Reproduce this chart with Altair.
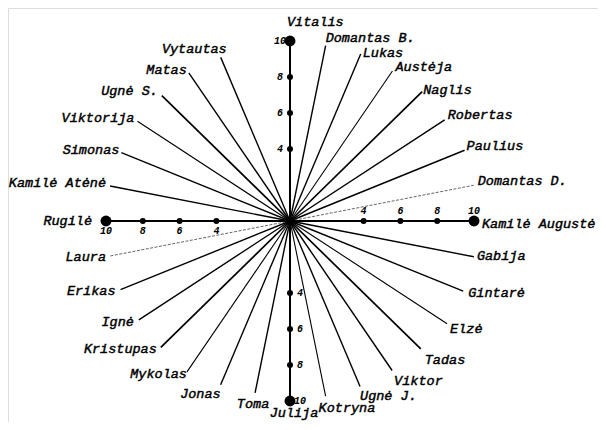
import math
import altair as alt
import pandas as pd

# ---- data -----------------------------------------------------------------
names = ["Vitalis", "Domantas B.", "Lukas", "Austėja", "Naglis", "Robertas", "Paulius",
         "Domantas D.", "Kamilė Augustė", "Gabija", "Gintarė", "Elzė", "Tadas", "Viktor",
         "Ugnė J.", "Kotryna", "Julija", "Toma", "Jonas", "Mykolas", "Kristupas", "Ignė",
         "Erikas", "Laura", "Rugilė", "Kamilė Atėnė", "Simonas", "Viktorija", "Ugnė S.",
         "Matas", "Vytautas"]
# slot around the circle (32 slots, clockwise from top; the last slot is empty)
slots = list(range(31))
# length of each spoke, in scale units (axis tick 10 = full axis)
lengths = [10, 9.93, 10.04, 10.02, 10.16, 10.11, 10.27, 10.18, 10, 10.19, 10.19, 10.27,
           10.05, 9.99, 9.95, 9.92, 10, 9.73, 9.85, 10.08, 9.93, 9.88, 9.97, 10.03, 10,
           9.97, 9.92, 9.97, 9.85, 9.9, 9.84]
# line weight: 0 = faint dashed, 1 = thin, 2 = medium, 3 = thick, 4 = scale axis
weights = [4, 2, 2, 1, 3, 2, 2, 0, 4, 2, 2, 1, 3, 2, 2, 1, 4, 2, 2, 1, 3, 2, 2, 0, 4,
           2, 2, 1, 3, 2, 2]
tick_values = [4, 6, 8, 10]
axis_names = ["Vitalis", "Kamilė Augustė", "Julija", "Rugilė"]

# ---- layout ----------------------------------------------------------------
PXX, PXY = 18.4, 18.0    # pixels per scale unit (x, y)
W, H = 590, 414
CX, CY = 282, 213        # centre inside the plot area
xdom = [-CX / PXX, (W - CX) / PXX]
ydom = [-(H - CY) / PXY, CY / PXY]

# label nudges relative to the end of each spoke: (align, dx px, dy px)
label_style = {
    "Vitalis": ("left", -3, -19), "Domantas B.": ("left", 0, -8), "Lukas": ("left", 2, -1),
    "Austėja": ("left", 3, -4), "Naglis": ("left", 1, -2), "Robertas": ("left", 3, -5),
    "Paulius": ("left", 2, -4), "Domantas D.": ("left", 4, -4),
    "Kamilė Augustė": ("left", 8, 3), "Gabija": ("left", 3, -1), "Gintarė": ("left", 5, 2),
    "Elzė": ("left", 3, 5), "Tadas": ("left", 4, 11), "Viktor": ("left", 2, 10),
    "Ugnė J.": ("left", 0, 10), "Kotryna": ("left", -7, 12), "Julija": ("center", 4, 12),
    "Toma": ("center", -2, 11), "Jonas": ("right", 0, 9), "Mykolas": ("right", 0, 2),
    "Kristupas": ("right", -4, 2), "Ignė": ("right", -5, 2), "Erikas": ("right", -5, 1),
    "Laura": ("right", -3, 1), "Rugilė": ("right", -14, 0), "Kamilė Atėnė": ("right", -4, -3),
    "Simonas": ("right", -2, -3), "Viktorija": ("right", -3, -3), "Ugnė S.": ("right", -4, -5),
    "Matas": ("right", -2, -3), "Vytautas": ("right", 6, -8),
}

rows = []
for n, sl, L, w in zip(names, slots, lengths, weights):
    th = math.radians(sl * 360 / 32)
    ex, ey = L * math.sin(th), L * math.cos(th)
    al, dx, dy = label_style[n]
    rows.append(dict(name=n, x0=0.0, y0=0.0, ex=ex, ey=ey, w=w, align=al,
                     lx=ex + dx / PXX, ly=ey - dy / PXY))
df = pd.DataFrame(rows)

tick_rows = []
for n in axis_names:
    th = math.radians(slots[names.index(n)] * 360 / 32)
    s, c = math.sin(th), math.cos(th)
    for v in tick_values:
        tx, ty = v * s, v * c
        ox, oy = -c * 10, -s * 10  # screen offset of the tick label (y down)
        tick_rows.append(dict(v=v, tx=tx, ty=ty, big=(v == max(tick_values)),
                              vx=tx + ox / PXX, vy=ty - oy / PXY, lab=str(v)))
ticks = pd.DataFrame(tick_rows)

X = lambda f: alt.X(f, type="quantitative", scale=alt.Scale(domain=xdom), axis=None)
Y = lambda f: alt.Y(f, type="quantitative", scale=alt.Scale(domain=ydom), axis=None)

base = alt.Chart(df)

dashed = base.transform_filter("datum.w == 0").mark_rule(
    color="#666666", strokeWidth=1, strokeDash=[3, 1.5]).encode(
    x=X("x0"), y=Y("y0"), x2="ex", y2="ey")

solid = base.transform_filter("datum.w > 0").mark_rule(color="black", strokeCap="butt").encode(
    x=X("x0"), y=Y("y0"), x2="ex", y2="ey",
    strokeWidth=alt.StrokeWidth("w:O", scale=alt.Scale(domain=[1, 2, 3, 4],
                                                       range=[1.1, 2, 3, 3.2]), legend=None))

dots_small = alt.Chart(ticks).transform_filter("!datum.big").mark_circle(
    color="black", opacity=1, size=36).encode(x=X("tx"), y=Y("ty"))
dots_big = alt.Chart(ticks).transform_filter("datum.big").mark_circle(
    color="black", opacity=1, size=120).encode(x=X("tx"), y=Y("ty"))

tick_text = alt.Chart(ticks).mark_text(
    font="Liberation Mono", fontStyle="italic", fontWeight="bold", fontSize=10,
    align="center", baseline="middle", color="black").encode(
    x=X("vx"), y=Y("vy"), text="lab:N")

label_layers = []
for al in ["left", "right", "center"]:
    label_layers.append(
        base.transform_filter(f"datum.align == '{al}'").mark_text(
            font="Liberation Mono", fontStyle="italic", fontSize=13.5,
            align=al, baseline="middle", color="black",
            stroke="black", strokeWidth=0.45).encode(
            x=X("lx"), y=Y("ly"), text="name:N"))

chart = alt.layer(dashed, solid, dots_small, dots_big, tick_text, *label_layers).properties(
    width=W, height=H, autosize=alt.AutoSizeParams(type="none"), padding=0
).configure_view(stroke=None).configure(background="white")

chart.save("out.html", embed_options={"renderer": "svg", "actions": False})
